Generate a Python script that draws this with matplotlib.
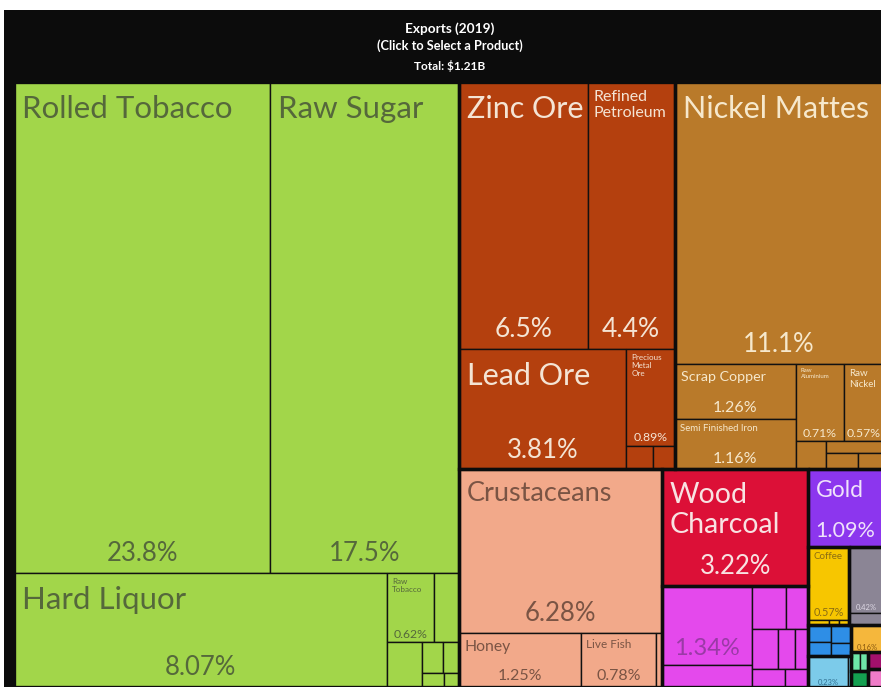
import matplotlib
matplotlib.use("Agg")
import matplotlib.pyplot as plt
from matplotlib.patches import Rectangle

# ---------------- data ----------------
products = [
    "Rolled Tobacco", "Raw Sugar", "Hard Liquor", "Raw\nTobacco", "", "", "", "", "", "",
    "Zinc Ore", "Refined\nPetroleum", "Lead Ore", "Precious\nMetal\nOre", "", "",
    "Nickel Mattes", "Scrap Copper", "Semi Finished Iron", "Raw\nAluminium", "Raw\nNickel",
    "", "", "", "",
    "Crustaceans", "Honey", "Live Fish", "",
    "Wood\nCharcoal",
    "", "", "", "", "", "", "", "", "",
    "Gold",
    "Coffee", "", "", "",
    "", "",
    "", "", "", "", "", "",
    "",
    "", "", "", "", "",
]
shares = [
    23.8, 17.5, 8.07, 0.62, 0.33, 0.30, 0.12, 0.09, 0.06, 0.04,
    6.5, 4.4, 3.81, 0.89, 0.12, 0.10,
    11.1, 1.26, 1.16, 0.71, 0.57,
    0.16, 0.12, 0.10, 0.08,
    6.28, 1.25, 0.78, 0.06,
    3.22,
    1.34, 0.38, 0.28, 0.18, 0.20, 0.13, 0.10, 0.11, 0.08,
    1.09,
    0.57, 0.02, 0.01, 0.01,
    0.42, 0.08,
    0.07, 0.06, 0.07, 0.05, 0.23, 0.02,
    0.16,
    0.03, 0.03, 0.05, 0.05, 0.05,
]
sections = (
    ["food"] * 10 + ["mineral"] * 6 + ["metal"] * 9 + ["animal"] * 4 + ["wood"]
    + ["machine"] * 9 + ["precious"] + ["veg"] * 4 + ["textile"] * 2
    + ["chem"] * 4 + ["lightblue"] * 2 + ["orange"]
    + ["lightgreen", "lightgreen", "green2", "darkmag", "pink"]
)

title_lines = ["Exports (2019)", "(Click to Select a Product)", "Total: $1.21B"]

# ---------------- layout structure (split direction, children) ----------------
tree = ("h", [
    ("v", [("h", [0, 1]),
           ("h", [2, ("v", [("h", [3, 4]),
                            ("h", [5, ("v", [("h", [6, 7]), ("h", [8, 9])])])])])]),
    ("v", [
        ("h", [
            ("v", [("h", [10, 11]), ("h", [12, ("v", [13, ("h", [14, 15])])])]),
            ("v", [16, ("h", [("v", [17, 18]),
                              ("v", [("h", [19, 20]),
                                     ("h", [21, ("v", [22, ("h", [23, 24])])])])])]),
        ]),
        ("h", [
            ("v", [25, ("h", [26, 27, 28])]),
            ("v", [29, ("h", [("v", [30, 31]),
                              ("v", [("h", [32, 33]), ("h", [34, 35, 36]), ("h", [37, 38])])])]),
            ("v", [39,
                   ("h", [("v", [40, ("h", [41, 42, 43])]), ("v", [44, 45])]),
                   ("h", [("v", [("h", [("v", [46, 47]), ("v", [48, 49])]), ("h", [50, 51])]),
                          ("v", [52, ("h", [("v", [("h", [53, 54]), 55]), ("v", [56, 57])])])])]),
        ]),
    ]),
])

# ---------------- styles ----------------
fill = {
    "food": "#a2d64a", "mineral": "#b4400e", "metal": "#b97a2a", "animal": "#f2a98a",
    "wood": "#dc1037", "machine": "#e449ec", "precious": "#8c36ee", "veg": "#f7c600",
    "textile": "#8b8595", "chem": "#2e8ee6", "lightblue": "#7ccbea", "orange": "#f5b73c",
    "lightgreen": "#6ee6a8", "green2": "#14a050", "darkmag": "#a3106c", "pink": "#f07cc8",
}
ink = {
    "food": "#55683b", "mineral": "#f4e4d4", "metal": "#f6e8cc", "animal": "#7a5444",
    "wood": "#f8e2e2", "machine": "#9a3aa6", "precious": "#efe2fb", "veg": "#8a6c14",
    "textile": "#ddd8e4", "chem": "#1a4f8a", "lightblue": "#2f6f90", "orange": "#8a5a10",
}
name_size = {0: 22.5, 1: 22.5, 2: 22.5, 10: 22, 16: 22, 25: 19.5, 12: 22, 29: 20.5,
             39: 16.5, 11: 11.5, 13: 5.8, 17: 10.3, 18: 6.9, 19: 4.4, 20: 7,
             3: 5.8, 26: 11.3, 27: 8.5, 40: 7}
pct_size = {0: 18.5, 1: 18.5, 2: 18.5, 10: 19, 11: 19, 12: 18.5, 16: 18.5, 25: 18.5,
            29: 18.5, 39: 15.5, 30: 17, 17: 11.5, 18: 11.5, 26: 11.5, 27: 11.5,
            13: 8.8, 19: 8.8, 20: 8.8, 3: 8.8, 40: 7.8, 44: 5.5, 52: 5.5, 50: 5.5}

FONT = ["Lato", "DejaVu Sans"]
plt.rcParams["font.family"] = FONT


def size(node):
    if isinstance(node, int):
        return shares[node]
    return sum(size(c) for c in node[1])


def layout(node, x, y, w, h, out):
    if isinstance(node, int):
        out[node] = (x, y, w, h)
        return
    d, kids = node
    tot = size(node)
    for k in kids:
        f = size(k) / tot
        if d == "h":
            layout(k, x, y, w * f, h, out)
            x += w * f
        else:
            layout(k, x, y, w, h * f, out)
            y += h * f


W, H = 881, 687
fig = plt.figure(figsize=(W / 100, H / 100), dpi=100, facecolor="white")
ax = fig.add_axes([0, 0, 1, 1])
ax.set_xlim(0, W)
ax.set_ylim(H, 0)
ax.axis("off")

ax.add_patch(Rectangle((4, 10), W, H, facecolor="#0c0c0c", edgecolor="none", zorder=0))

rects = {}
layout(tree, 14, 82, 869, 605, rects)

for i, (x, y, w, h) in rects.items():
    ax.add_patch(Rectangle((x, y), w, h, facecolor=fill[sections[i]],
                           edgecolor="#111111", linewidth=1.0, zorder=1))

# section outlines
for sec in dict.fromkeys(sections):
    ids = [i for i in rects if sections[i] == sec]
    x0 = min(rects[i][0] for i in ids)
    y0 = min(rects[i][1] for i in ids)
    x1 = max(rects[i][0] + rects[i][2] for i in ids)
    y1 = max(rects[i][1] + rects[i][3] for i in ids)
    ax.add_patch(Rectangle((x0, y0), x1 - x0, y1 - y0, facecolor="none",
                           edgecolor="#0c0c0c", linewidth=2.4, zorder=2))

PX = 100 / 72.0
for i, (x, y, w, h) in rects.items():
    col = ink.get(sections[i], "#333333")
    if i in name_size and products[i]:
        fs = name_size[i]
        ax.text(x + 4 + 0.13 * fs * PX, y + 2 + 0.36 * fs * PX, products[i], fontsize=fs,
                color=col, ha="left", va="top", linespacing=1.22, zorder=3)
    if i in pct_size:
        fs = pct_size[i]
        ax.text(x + w / 2, y + h + 1 - 0.3 * fs * PX, f"{shares[i]:.3g}%", fontsize=fs,
                color=col, ha="center", va="bottom", zorder=3)

for line, yy, fs in zip(title_lines, [29, 46, 66], [9.8, 9.2, 8.6]):
    ax.text(450, yy, line, fontsize=fs, color="white", ha="center", va="center",
            fontweight="bold")

fig.savefig("out.png", dpi=100, facecolor="white")
